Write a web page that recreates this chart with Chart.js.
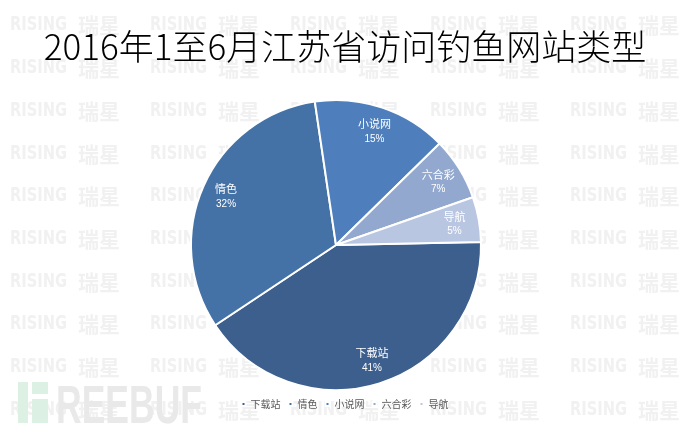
<!DOCTYPE html>
<html>
<head>
<meta charset="utf-8">
<script src="https://cdn.jsdelivr.net/npm/chart.js@4.4.0/dist/chart.umd.min.js"></script>
<style>
  html, body { margin: 0; padding: 0; background: #fff; }
  #wrap { width: 690px; height: 431px; position: relative; }
</style>
</head>
<body>
<div id="wrap"><canvas id="pie"></canvas></div>
<script>
var title_text = '2016年1至6月江苏省访问钓鱼网站类型';
var site_types = ['下载站', '情色', '小说网', '六合彩', '导航'];
var share_pct = [41, 32, 15, 7, 5];
var slice_colors = ['#3c5f8e', '#4572a6', '#4e7fbc', '#93a8cf', '#b9c6e2'];

// faint "RISING 瑞星" watermark + freebuf mark behind everything
var watermark = {
	id: 'watermark',
	beforeDraw: function(chart) {
		var ctx = chart.ctx;
		ctx.save();
		ctx.fillStyle = '#f1f1f1';
		ctx.textBaseline = 'middle';
		ctx.textAlign = 'left';
		for (var row = 0; row < 10; row++) {
			var y = 25.5 + row * 42.7;
			for (var col = 0; col < 5; col++) {
				var x = 10 + col * 140;
				ctx.font = 'bold 19px "DejaVu Sans"';
				ctx.fillText('RISING', x, y, 57);
				ctx.font = 'bold 21px "Noto Sans CJK SC"';
				ctx.fillText('瑞星', x + 68, y, 50);
			}
		}
		// freebuf logo, bottom left
		ctx.fillStyle = '#dcf0e4';
		ctx.fillRect(18, 382, 10, 41);
		ctx.fillRect(32, 382, 16, 12);
		ctx.fillRect(32, 399, 16, 24);
		ctx.fillStyle = '#e9e9e9';
		ctx.font = 'bold 54px "Liberation Sans"';
		ctx.textBaseline = 'alphabetic';
		ctx.fillText('REEBUF', 56, 423, 146);
		ctx.restore();
	}
};

// nudge the pie a little left of the title / legend centre
var shiftPie = {
	id: 'shiftPie',
	afterLayout: function(chart) {
		chart.chartArea.left -= 9;
		chart.chartArea.right -= 9;
	}
};

// name + percent inside each slice
var sliceLabels = {
	id: 'sliceLabels',
	afterDatasetsDraw: function(chart) {
		var ctx = chart.ctx;
		var meta = chart.getDatasetMeta(0);
		ctx.save();
		ctx.fillStyle = '#ffffff';
		ctx.textAlign = 'center';
		ctx.textBaseline = 'middle';
		meta.data.forEach(function(arc, i) {
			var p = arc.getProps(['x', 'y', 'startAngle', 'endAngle', 'outerRadius'], true);
			var mid = (p.startAngle + p.endAngle) / 2;
			var r = p.outerRadius * 0.83;
			var cx = p.x + Math.cos(mid) * r;
			var cy = p.y + Math.sin(mid) * r;
			ctx.font = '11px "Noto Sans CJK SC"';
			ctx.fillText(site_types[i], cx, cy - 7);
			ctx.font = '10px "Liberation Sans"';
			ctx.fillText(share_pct[i] + '%', cx, cy + 8);
		});
		ctx.restore();
	}
};

var config = {
	type: 'pie',
	data: {
		labels: site_types,
		datasets: [{
			data: share_pct,
			backgroundColor: slice_colors,
			borderColor: '#ffffff',
			borderWidth: 2
		}]
	},
	options: {
		responsive: false,
		animation: false,
		rotation: 88.8,
		layout: { padding: { left: 0, right: 0, top: 0, bottom: 12 } },
		plugins: {
			title: {
				display: true,
				text: title_text,
				color: '#000000',
				font: { family: '"Noto Sans CJK SC"', size: 35, weight: 300 },
				padding: { top: 26, bottom: 31 }
			},
			legend: {
				position: 'bottom',
				labels: {
					boxWidth: 4,
					boxHeight: 4,
					color: '#595959',
					font: { family: '"Noto Sans CJK SC"', size: 10 },
					padding: 8
				}
			},
			tooltip: { enabled: false }
		}
	},
	plugins: [watermark, shiftPie, sliceLabels]
};

var canvas = document.getElementById('pie');
canvas.width = 690;
canvas.height = 431;
new Chart(canvas, config);
</script>
</body>
</html>
